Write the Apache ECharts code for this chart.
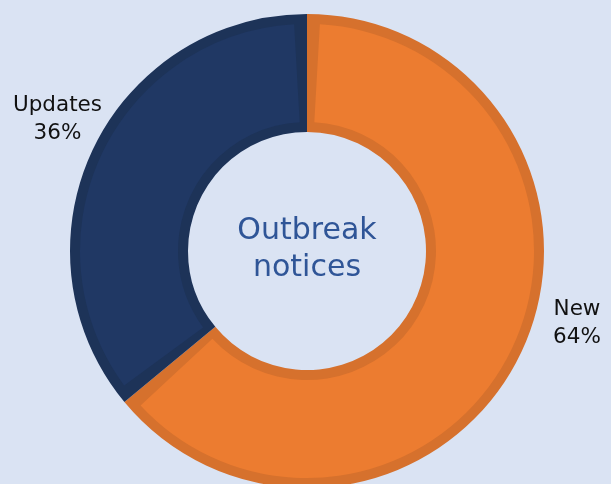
<!DOCTYPE html>
<html>
<head>
<meta charset="utf-8">
<script src="https://cdn.jsdelivr.net/npm/echarts@6/dist/echarts.min.js"></script>
<style>
html,body{margin:0;padding:0;background:#DAE3F3;}
#chart{width:611px;height:484px;}
</style>
</head>
<body>
<div id="chart"></div>
<script>
const categories = ['New', 'Updates'];
const values = [64, 36];
const fillColors = ['#EC7C30', '#203864'];
const borderColors = ['#D6712D', '#1D3358'];
const centerTitle = 'Outbreak\nnotices';

const chart = echarts.init(document.getElementById('chart'));
const labelPos = [[577, 323], [57.5, 119]];

const baseData = categories.map((c, i) => ({ name: c, value: values[i], itemStyle: { color: borderColors[i] } }));
const topData = categories.map((c, i) => ({ name: c, value: values[i], itemStyle: { color: fillColors[i] } }));

chart.setOption({
  backgroundColor: '#DAE3F3',
  animation: false,
  series: [
    {
      type: 'pie',
      center: [307, 251],
      radius: [119, 237],
      startAngle: 90,
      clockwise: true,
      silent: true,
      label: { show: false },
      labelLine: { show: false },
      emphasis: { disabled: true },
      data: baseData
    },
    {
      type: 'pie',
      center: [307, 251],
      radius: [129, 227],
      startAngle: 90,
      clockwise: true,
      padAngle: 6.5,
      silent: true,
      emphasis: { disabled: true },
      label: {
        show: true,
        position: 'outside',
        formatter: p => p.name + '\n' + Math.round(p.percent) + '%',
        fontFamily: 'DejaVu Sans',
        fontSize: 21.5,
        lineHeight: 28,
        color: '#111111',
        align: 'center',
        overflow: 'none',
        width: 120
      },
      labelLine: { show: false },
      labelLayout: function (params) {
        const p = labelPos[params.dataIndex];
        return { x: p[0], y: p[1], align: 'center', verticalAlign: 'middle', width: 120 };
      },
      data: topData
    }
  ],
  graphic: [
    {
      type: 'text',
      x: 307,
      y: 250,
      silent: true,
      style: {
        text: centerTitle,
        align: 'center',
        verticalAlign: 'middle',
        fontFamily: 'DejaVu Sans',
        fontSize: 30,
        lineHeight: 37,
        fill: '#2F5597'
      }
    }
  ]
});
</script>
</body>
</html>
